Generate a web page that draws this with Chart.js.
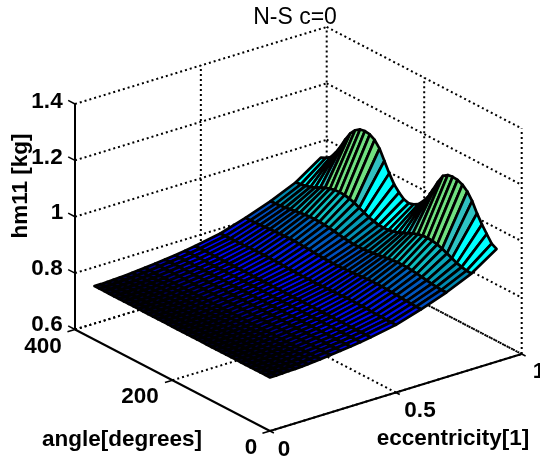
<!DOCTYPE html>
<html><head><meta charset="utf-8">
<style>html,body{margin:0;padding:0;background:#fff}canvas{display:block}</style>
<script src="https://cdn.jsdelivr.net/npm/chart.js@4/dist/chart.umd.min.js"></script>
</head><body><canvas id="c" width="540" height="461"></canvas>
<script>
const titleText = "N-S c=0";
const zLabel = "hm11 [kg]", angleLabel = "angle[degrees]", eccLabel = "eccentricity[1]";
const zTicks = [0.6, 0.8, 1, 1.2, 1.4];
const angleTicks = [0, 200, 400];
const eccTicks = [0, 0.5, 1];
const angles = [0,10,20,30,40,50,60,70,80,90,100,110,120,130,140,150,160,170,180,190,200,210,220,230,240,250,260,270,280,290,300,310,320,330,340,350,360];
const eccs = [0,0.025,0.05,0.075,0.1,0.125,0.15,0.175,0.2,0.24,0.28,0.32,0.36,0.4,0.5,0.6,0.7,0.8,0.9];
const z00 = [.790,.790,.790,.790,.790,.790,.790,.790,.790,.790,.790,.790,.790,.790,.790,.790,.790,.790,.790,.790,.790,.790,.790,.790,.790,.790,.790,.790,.790,.790,.790,.790,.790,.790,.790,.790,.790];
const z02 = [.790,.790,.790,.790,.790,.790,.790,.790,.790,.790,.790,.790,.790,.790,.790,.790,.790,.790,.790,.790,.790,.790,.790,.790,.790,.790,.790,.790,.790,.790,.790,.790,.790,.790,.790,.790,.790];
const z05 = [.791,.791,.791,.791,.791,.791,.791,.791,.791,.791,.791,.791,.791,.791,.791,.791,.791,.791,.791,.791,.791,.791,.791,.791,.791,.791,.791,.791,.791,.791,.791,.791,.791,.791,.791,.791,.791];
const z07 = [.792,.792,.792,.792,.792,.792,.792,.792,.792,.792,.792,.792,.792,.792,.792,.792,.792,.792,.792,.792,.792,.792,.792,.792,.792,.792,.792,.792,.792,.792,.792,.792,.792,.792,.792,.792,.792];
const z10 = [.793,.793,.793,.793,.793,.793,.793,.793,.793,.793,.793,.793,.793,.793,.793,.793,.793,.793,.793,.793,.793,.793,.793,.793,.793,.793,.793,.793,.793,.793,.793,.793,.793,.793,.793,.793,.793];
const z12 = [.794,.794,.794,.794,.794,.794,.794,.794,.794,.794,.794,.794,.794,.794,.794,.794,.794,.794,.794,.794,.794,.794,.794,.794,.794,.794,.794,.794,.794,.794,.794,.794,.794,.794,.794,.794,.794];
const z15 = [.796,.796,.796,.796,.796,.796,.796,.796,.796,.796,.796,.796,.796,.796,.796,.796,.796,.796,.796,.796,.796,.796,.796,.796,.796,.796,.796,.796,.796,.796,.796,.796,.796,.796,.796,.796,.796];
const z17 = [.798,.798,.798,.798,.798,.798,.798,.798,.798,.798,.798,.798,.798,.798,.798,.798,.798,.798,.798,.798,.798,.798,.798,.798,.798,.798,.798,.798,.798,.798,.798,.798,.798,.798,.798,.798,.798];
const z20 = [.800,.800,.800,.800,.800,.800,.800,.800,.800,.800,.800,.800,.800,.800,.800,.800,.800,.800,.800,.800,.800,.800,.800,.800,.800,.800,.800,.800,.800,.800,.800,.800,.800,.800,.800,.800,.800];
const z24 = [.804,.804,.804,.804,.804,.804,.804,.804,.804,.804,.804,.804,.804,.804,.804,.804,.804,.804,.804,.804,.804,.804,.804,.804,.804,.804,.804,.804,.804,.804,.804,.804,.804,.804,.804,.804,.804];
const z28 = [.808,.808,.808,.808,.808,.808,.808,.808,.808,.808,.808,.808,.808,.808,.808,.808,.808,.808,.808,.808,.808,.808,.808,.808,.808,.808,.808,.808,.808,.808,.808,.808,.808,.808,.808,.808,.808];
const z32 = [.812,.812,.812,.812,.812,.812,.812,.812,.812,.812,.812,.812,.812,.812,.812,.812,.812,.812,.812,.812,.812,.812,.812,.812,.812,.812,.812,.812,.812,.812,.812,.812,.812,.812,.812,.812,.812];
const z36 = [.817,.817,.817,.817,.817,.817,.817,.817,.817,.817,.817,.817,.817,.817,.817,.817,.817,.817,.817,.817,.817,.817,.817,.817,.817,.817,.817,.817,.817,.817,.817,.817,.817,.817,.817,.817,.817];
const z40 = [.823,.823,.823,.823,.823,.823,.823,.823,.823,.823,.823,.823,.823,.823,.823,.823,.823,.823,.823,.823,.823,.823,.823,.823,.823,.823,.823,.823,.823,.823,.823,.823,.823,.823,.823,.823,.823];
const z50 = [.840,.840,.840,.841,.841,.842,.843,.843,.844,.844,.844,.843,.843,.842,.841,.841,.840,.840,.840,.840,.840,.841,.841,.842,.843,.843,.844,.844,.844,.843,.843,.842,.841,.841,.840,.840,.840];
const z60 = [.868,.868,.869,.870,.871,.873,.874,.875,.876,.876,.876,.875,.874,.873,.871,.870,.869,.868,.868,.868,.869,.870,.871,.873,.874,.875,.876,.876,.876,.875,.874,.873,.871,.870,.869,.868,.868];
const z70 = [.900,.900,.902,.904,.907,.910,.913,.915,.917,.917,.917,.915,.913,.910,.907,.904,.902,.900,.900,.900,.902,.904,.907,.910,.913,.915,.917,.917,.917,.915,.913,.910,.907,.904,.902,.900,.900];
const z80 = [.940,.941,.945,.950,.958,.966,.974,.980,.984,.985,.984,.980,.974,.966,.958,.950,.945,.941,.940,.941,.945,.950,.958,.966,.974,.980,.984,.985,.984,.980,.974,.966,.958,.950,.945,.941,.940];
const z90 = [1.00,1.01,1.035,1.06,1.09,1.125,1.15,1.165,1.173,1.175,1.172,1.16,1.13,1.095,1.06,1.035,1.015,1.005,1.00,1.005,1.02,1.04,1.07,1.105,1.14,1.162,1.172,1.175,1.172,1.16,1.14,1.11,1.075,1.045,1.02,1.008,1.00];
const zRows = [z00,z02,z05,z07,z10,z12,z15,z17,z20,z24,z28,z32,z36,z40,z50,z60,z70,z80,z90];

// orthographic view of the box, used by every mark
function proj(e, a, z) {
  return { x: 270 + e * 251.7 - a / 400 * 195, y: 431 - e * 77 - a / 400 * 101.5 - (z - 0.6) * 281.9 };
}
const colorStops = [
  [.79,[0,0,40]],[.80,[0,0,130]],[.815,[0,0,255]],[.855,[0,16,240]],[.885,[0,80,192]],
  [.92,[0,136,176]],[.95,[16,192,192]],[.97,[0,255,255]],[1.03,[0,255,255]],[1.035,[48,192,192]],
  [1.058,[48,192,192]],[1.062,[112,224,128]],[1.4,[112,224,128]]];
function colorOf(v) {
  let s = colorStops;
  if (v <= s[0][0]) return `rgb(${s[0][1]})`;
  for (let i = 1; i < s.length; i++) if (v <= s[i][0]) {
    const t = (v - s[i-1][0]) / (s[i][0] - s[i-1][0]);
    return `rgb(${s[i-1][1].map((c, k) => Math.round(c + (s[i][1][k] - c) * t))})`;
  }
  return `rgb(${s[s.length-1][1]})`;
}
const datasets = [];
const common = { pointRadius: 0, pointHoverRadius: 0, tension: 0, showLine: true };
// surface: nearest facets first (first dataset is painted last)
for (let j = 0; j < angles.length - 1; j++) {
  for (let i = 0; i < eccs.length - 1; i++) {
    const c = [[i,j],[i+1,j],[i+1,j+1],[i,j+1],[i,j]];
    const data = c.map(([p, q]) => proj(eccs[p], angles[q], zRows[p][q]));
    const m = (zRows[i][j] + zRows[i+1][j] + zRows[i+1][j+1] + zRows[i][j+1]) / 4;
    datasets.push({ ...common, data, fill: 'shape', backgroundColor: colorOf(m), borderColor: '#000', borderWidth: 2.7, borderJoinStyle: 'round', borderCapStyle: 'round' });
  }
}
function line(pts, dashed, w) {
  datasets.push({ ...common, data: pts, fill: false, borderColor: '#000', borderWidth: w, borderDash: dashed ? [2, 3] : [], borderCapStyle: 'butt' });
}
const Zlo = zTicks[0], Zhi = zTicks[zTicks.length-1], Alo = 0, Ahi = 400, Elo = 0, Ehi = 1;
// axes and tick marks
line([proj(Elo,Ahi,Zlo), proj(Elo,Ahi,Zhi)], false, 2);
line([proj(Elo,Ahi,Zlo), proj(Elo,Alo,Zlo)], false, 2);
line([proj(Elo,Alo,Zlo), proj(Ehi,Alo,Zlo)], false, 2);
zTicks.forEach(z => line([proj(Elo,Ahi,z), proj(Elo,Ahi+14,z)], false, 1.5));
angleTicks.forEach(a => line([proj(Elo,a,Zlo), proj(Elo-0.03,a,Zlo)], false, 1.5));
eccTicks.forEach(e => line([proj(e,Alo,Zlo), proj(e,Alo-8,Zlo)], false, 1.5));
// dotted grid on the two back walls and the floor
zTicks.forEach(z => {
  line([proj(Elo,Ahi,z), proj(Ehi,Ahi,z)], true, 2);
  line([proj(Ehi,Ahi,z), proj(Ehi,Alo,z)], true, 2);
});
eccTicks.slice(1).forEach(e => {
  line([proj(e,Ahi,Zlo), proj(e,Ahi,Zhi)], true, 2);
  line([proj(e,Alo,Zlo), proj(e,Ahi,Zlo)], true, 2);
});
angleTicks.slice(0,2).forEach(a => {
  line([proj(Ehi,a,Zlo), proj(Ehi,a,Zhi)], true, 2);
  line([proj(Elo,a,Zlo), proj(Ehi,a,Zlo)], true, 2);
});
line([proj(Elo,Ahi,Zlo), proj(Ehi,Ahi,Zlo)], true, 2);

const labelFont = 'bold 22.5px "Liberation Sans", Arial, sans-serif';
const texts = [
  { t: titleText, x: 295, y: 18, font: '23px "Liberation Sans", Arial, sans-serif' },
  { t: String(zTicks[4]), x: 47, y: 102 }, { t: String(zTicks[3]), x: 47, y: 158 },
  { t: String(zTicks[2]), x: 57, y: 213 }, { t: String(zTicks[1]), x: 47, y: 269 },
  { t: "0.6", x: 47, y: 325 },
  { t: String(angleTicks[2]), x: 43, y: 347 }, { t: String(angleTicks[1]), x: 140, y: 397 }, { t: String(angleTicks[0]), x: 251, y: 448 },
  { t: String(eccTicks[0]), x: 284, y: 450 }, { t: String(eccTicks[1]), x: 420, y: 411 }, { t: String(eccTicks[2]), x: 539, y: 372 },
  { t: angleLabel, x: 122, y: 440 }, { t: eccLabel, x: 453, y: 439 },
  { t: zLabel, x: 21, y: 186, rot: -Math.PI / 2 }
];
const textPlugin = { id: 'boxText', afterDraw(chart) {
  const g = chart.ctx; g.save(); g.fillStyle = '#000'; g.textAlign = 'center'; g.textBaseline = 'middle';
  texts.forEach(o => { g.save(); g.translate(o.x, o.y); if (o.rot) g.rotate(o.rot); g.font = o.font || labelFont; g.fillText(o.t, 0, 0); g.restore(); });
  g.restore();
}};
new Chart(document.getElementById('c'), {
  type: 'scatter',
  data: { datasets },
  plugins: [textPlugin],
  options: {
    responsive: false, animation: false, events: [],
    layout: { padding: 0 },
    clip: false,
    plugins: { legend: { display: false }, tooltip: { enabled: false }, title: { display: false } },
    scales: {
      x: { type: 'linear', min: 0, max: 540, display: false },
      y: { type: 'linear', min: 0, max: 461, reverse: true, display: false }
    }
  }
});
</script></body></html>
